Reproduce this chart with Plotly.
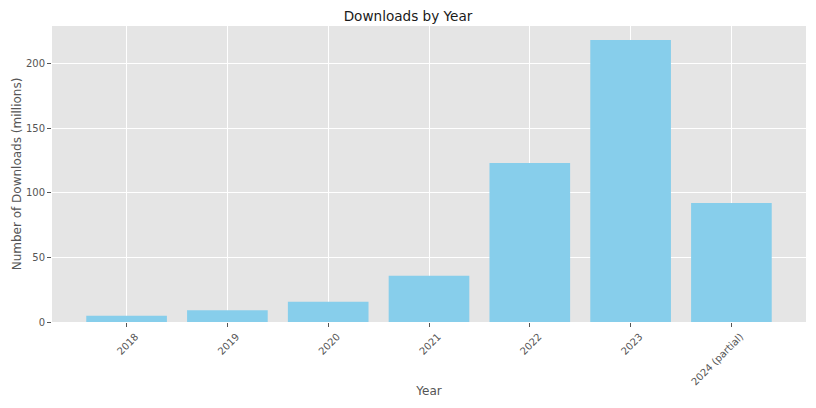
import plotly.graph_objects as go

# Dati
anni = ["2018", "2019", "2020", "2021", "2022", "2023", "2024 (partial)"]
download_milioni = [4.9, 9.0, 15.7, 35.8, 123.0, 218.0, 92.1]

fig = go.Figure()
fig.add_trace(go.Bar(x=anni, y=download_milioni,
                     marker=dict(color="#87CEEB", line_width=0),
                     width=0.8))

# la pagina ha 8px di margine sul body: figura piu' piccola di 16px
fig.update_layout(
    width=800, height=392,
    margin=dict(l=44, r=2, t=18, b=78),
    paper_bgcolor="white",
    plot_bgcolor="#E5E5E5",
    font=dict(family="DejaVu Sans", color="#555555"),
    showlegend=False,
    title=dict(text="Downloads by Year", x=0.5, xanchor="center",
               y=0.98, yanchor="middle",
               font=dict(size=13.6, color="#1a1a1a")),
)

fig.update_xaxes(
    title=dict(text="Year", font=dict(size=12, color="#555555"), standoff=0),
    range=[-0.74, 6.74],
    tickangle=-45,
    tickfont=dict(size=10, color="#555555"),
    ticklabelshift=9,
    ticks="outside", ticklen=4, tickcolor="#555555",
    showgrid=True, gridcolor="white", gridwidth=1,
    zeroline=False, showline=False, automargin=False,
)
fig.update_yaxes(
    title=dict(text="Number of Downloads (millions)",
               font=dict(size=12, color="#555555"), standoff=1),
    range=[0, 228.9],
    tickvals=[0, 50, 100, 150, 200],
    tickfont=dict(size=10, color="#555555"),
    ticks="outside", ticklen=4, tickcolor="#555555",
    showgrid=True, gridcolor="white", gridwidth=1,
    zeroline=False, showline=False, automargin=False,
)

fig.write_html("out.html")
